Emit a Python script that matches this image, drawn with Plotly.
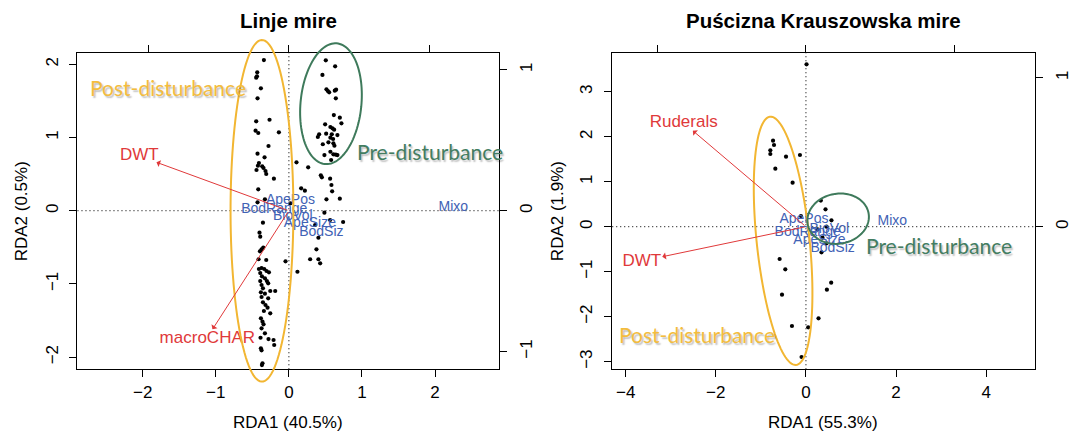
import numpy as np
import plotly.graph_objects as go

# ---------------- data ----------------
# Linje mire: site scores (RDA1, RDA2)
left_rda1 = [-0.342, -0.433, -0.437, -0.447, -0.383, -0.429, -0.447, -0.265, -0.456, -0.419, -0.137, -0.279, -0.429, -0.333,
             -0.410, -0.424, -0.365, -0.347, -0.443, -0.320, -0.310, -0.205, -0.419, -0.429, -0.328, 0.022, -0.355, -0.402,
             -0.392, -0.351, -0.374, -0.396, -0.310, -0.415, -0.046,
             -0.410, -0.374, -0.337, -0.306, -0.273, -0.392, -0.369, -0.328, -0.392, -0.301, -0.283, -0.374, -0.355, -0.255,
             -0.187, -0.383, -0.328, -0.374, -0.283, -0.355, -0.320, -0.292, -0.342, -0.255, -0.383, -0.361, -0.347, -0.374,
             -0.328, -0.388, -0.279, -0.210, -0.201, -0.383, -0.374, -0.361, -0.369, 0.117,
             0.505, 0.633, 0.459, 0.514, 0.533, 0.551, 0.628, 0.646, 0.642, 0.615, 0.697, 0.719, 0.496, 0.568, 0.596, 0.619,
             0.414, 0.510, 0.587, 0.664, 0.396, 0.568, 0.605, 0.541, 0.464, 0.609, 0.623, 0.568, 0.486, 0.609, 0.642, 0.664,
             0.578, 0.104, 0.264,
             0.437, 0.451, 0.564, 0.582, 0.168, 0.219, 0.592, 0.697, 0.514, 0.486, 0.742, 0.564, 0.359, 0.404, 0.377, 0.291,
             0.404, 0.428]
left_rda2 = [2.057, 1.889, 1.835, 1.816, 1.671, 1.534, 1.220, 1.242, 1.092, 1.061, 1.070, 0.883, 0.778, 0.729,
             0.651, 0.614, 0.606, 0.583, 0.556, 0.542, 0.501, 0.437, 0.292, 0.115, 0.156, 0.101, -0.164, -0.300,
             -0.355, -0.505, -0.527, -0.554, -0.673, -0.663, -0.691,
             -0.796, -0.782, -0.796, -0.823, -0.841, -0.851, -0.896, -0.923, -0.960, -0.960, -0.991, -1.014, -1.059, -1.096,
             -1.096, -1.114, -1.133, -1.178, -1.196, -1.251, -1.287, -1.324, -1.369, -1.401, -1.469, -1.515, -1.551, -1.605,
             -1.674, -1.734, -1.752, -1.765, -1.833, -1.879, -1.906, -2.083, -2.107, -0.833,
             2.053, 1.971, 1.853, 1.657, 1.634, 1.616, 1.638, 1.652, 1.534, 1.306, 1.270, 1.193, 1.179, 1.143, 1.125, 1.106,
             1.043, 1.051, 1.043, 1.033, 1.006, 0.997, 0.979, 0.934, 0.907, 0.920, 0.887, 0.805, 0.760, 0.770, 0.765, 0.760,
             0.692, 0.661, 0.592,
             0.483, 0.456, 0.437, 0.351, 0.306, 0.273, 0.265, 0.164, 0.156, -0.027, -0.154, -0.127, -0.195, -0.369, -0.527, -0.663,
             -0.663, -0.718]

# Puscizna Krauszowska mire: site scores
right_rda1 = [0.013, -0.730, -0.708, -0.790, -0.790, -0.442, -0.133, -0.679, -0.296, -0.111, 0.434, 0.566, 0.257,
              0.367, 0.456, 0.345, 0.330, -0.584, -0.458, 0.560, 0.465, -0.531, 0.279, -0.310, 0.051, -0.097, 0.456]
right_rda2 = [3.609, 1.911, 1.816, 1.697, 1.616, 1.556, 1.593, 1.289, 0.978, 0.238, 0.387, 0.142, -0.058,
              -0.244, -0.369, -0.569, 0.580, -0.718, -0.947, -1.244, -1.400, -1.511, -2.036, -2.207, -2.236, -2.896, 0.0]

species = ["ApePos", "BodRange", "BioVol", "ApeSize", "BodSiz", "Mixo"]
left_sp_x = [0.011, -0.104, 0.028, 0.149, 0.231, 1.169]
left_sp_y = [0.071, 0.010, -0.043, -0.089, -0.153, 0.024]
right_sp_x = [-0.013, 0.012, 0.158, 0.091, 0.180, 0.583]
right_sp_y = [0.045, -0.038, -0.017, -0.094, -0.145, 0.034]

left_env = ["DWT", "macroCHAR"]
left_env_x = [-1.812, -1.045]
left_env_y = [0.661, -1.619]
left_env_lab_x = [-2.047, -1.116]
left_env_lab_y = [0.751, -1.742]

right_env = ["Ruderals", "DWT"]
right_env_x = [-2.509, -3.188]
right_env_y = [2.133, -0.667]
right_env_lab_x = [-2.712, -3.640]
right_env_lab_y = [2.320, -0.778]

titles = ["Linje mire", "Puścizna Krauszowska mire"]
x_titles = ["RDA1 (40.5%)", "RDA1 (55.3%)"]
y_titles = ["RDA2 (0.5%)", "RDA2 (1.9%)"]
left_xticks = [-2, -1, 0, 1, 2]
left_yticks = [-2, -1, 0, 1, 2]
right_xticks = [-4, -2, 0, 2, 4]
right_yticks = [-3, -2, -1, 0, 1, 2, 3]
sp_ticks_left = [-1, 0, 1]
sp_ticks_right_y = [0, 1]
group_labels = ["Post-disturbance", "Pre-disturbance"]

# ---------------- style / layout ----------------
W, H = 1072, 433
FONT = "Liberation Sans, Arial, sans-serif"
GFONT = "Lato, Open Sans, sans-serif"
RED = "#E0393A"
BLUE = "#4162B5"
YEL = "#F2B632"
GRN = "#3E7A5B"
YEL_T = "#F3BC3E"
GRN_T = "#437D61"

L_BOX = (77.6, 500.7, 52.7, 369.3)
R_BOX = (613.8, 1037.6, 52.7, 369.3)


def dom_x(b):
    return [b[0] / W, b[1] / W]


def dom_y(b):
    return [1 - b[3] / H, 1 - b[2] / H]


fig = go.Figure()

# sites
fig.add_trace(go.Scatter(x=left_rda1, y=left_rda2, mode="markers", xaxis="x", yaxis="y",
                         marker=dict(color="black", size=4.2), hoverinfo="skip"))
fig.add_trace(go.Scatter(x=right_rda1, y=right_rda2, mode="markers", xaxis="x2", yaxis="y2",
                         marker=dict(color="black", size=4.2), hoverinfo="skip"))
# species
fig.add_trace(go.Scatter(x=left_sp_x, y=left_sp_y, mode="text", text=species, xaxis="x3", yaxis="y3",
                         textfont=dict(family=FONT, size=14, color=BLUE), cliponaxis=False, hoverinfo="skip"))
fig.add_trace(go.Scatter(x=right_sp_x, y=right_sp_y, mode="text", text=species, xaxis="x4", yaxis="y4",
                         textfont=dict(family=FONT, size=14, color=BLUE), cliponaxis=False, hoverinfo="skip"))
# env labels
fig.add_trace(go.Scatter(x=left_env_lab_x, y=left_env_lab_y, mode="text", text=left_env, xaxis="x", yaxis="y",
                         textfont=dict(family=FONT, size=17, color=RED), cliponaxis=False, hoverinfo="skip"))
fig.add_trace(go.Scatter(x=right_env_lab_x, y=right_env_lab_y, mode="text", text=right_env, xaxis="x2", yaxis="y2",
                         textfont=dict(family=FONT, size=17, color=RED), cliponaxis=False, hoverinfo="skip"))

annotations = []
for xs, ys, xr, yr in [(left_env_x, left_env_y, "x", "y"), (right_env_x, right_env_y, "x2", "y2")]:
    for xe, ye in zip(xs, ys):
        annotations.append(dict(x=xe, y=ye, ax=0, ay=0, xref=xr, yref=yr, axref=xr, ayref=yr, text="",
                                showarrow=True, arrowhead=1, arrowsize=1.2, arrowwidth=1, arrowcolor=RED))

tick = dict(showgrid=False, zeroline=False, ticks="outside", ticklen=7, tickwidth=1, tickcolor="black",
            tickfont=dict(family=FONT, size=17, color="black"))
box = dict(showline=True, mirror=True, linecolor="black", linewidth=1)

layout_axes = dict(
    xaxis=dict(domain=dom_x(L_BOX), range=[-2.894, 2.879], anchor="y", tickvals=left_xticks, **tick, **box),
    yaxis=dict(domain=dom_y(L_BOX), range=[-2.165, 2.157], anchor="x", tickvals=left_yticks, tickangle=-90,
               ticklabelstandoff=5, **tick, **box),
    xaxis3=dict(overlaying="x", side="top", anchor="y", range=[-1.504, 1.496], tickvals=sp_ticks_left,
                showticklabels=False, showline=False, **tick),
    yaxis3=dict(overlaying="y", side="right", anchor="x", range=[-1.126, 1.122], tickvals=sp_ticks_left,
                tickangle=-90, ticklabelstandoff=4, showline=False, **tick),
    xaxis2=dict(domain=dom_x(R_BOX), range=[-4.301, 5.075], anchor="y2", tickvals=right_xticks, **tick, **box),
    yaxis2=dict(domain=dom_y(R_BOX), range=[-3.169, 3.867], anchor="x2", tickvals=right_yticks, tickangle=-90,
                ticklabelstandoff=5, **tick, **box),
    xaxis4=dict(overlaying="x2", side="top", anchor="y2", range=[-1.306, 1.542], tickvals=sp_ticks_left,
                showticklabels=False, showline=False, **tick),
    yaxis4=dict(overlaying="y2", side="right", anchor="x2", range=[-0.957, 1.168], tickvals=sp_ticks_right_y,
                tickangle=-90, ticklabelstandoff=5, showline=False, **tick),
)

# dotted zero lines
shapes = []
for xr, yr in [("x", "y"), ("x2", "y2")]:
    shapes.append(dict(type="line", xref=xr, yref=yr + " domain", x0=0, x1=0, y0=0, y1=1,
                       line=dict(color="#222", width=1, dash="1.2px,2.8px"), layer="below"))
    shapes.append(dict(type="line", xref=xr + " domain", yref=yr, x0=0, x1=1, y0=0, y1=0,
                       line=dict(color="#222", width=1, dash="1.2px,2.8px"), layer="below"))


# hand-drawn group ellipses (pixel geometry: cx, cy, semi-x, semi-y, tilt deg, colour)
def ellipse_path(cx, cy, a, b, theta):
    t = np.linspace(0, 2 * np.pi, 120)
    th = np.radians(theta)
    px = cx + a * np.cos(t) * np.cos(th) - b * np.sin(t) * np.sin(th)
    py = cy - (a * np.cos(t) * np.sin(th) + b * np.sin(t) * np.cos(th))
    pts = [f"{x / W:.5f},{1 - y / H:.5f}" for x, y in zip(px, py)]
    return "M " + " L ".join(pts) + " Z"


ellipses = [
    (262.7, 210.8, 31.5, 170.8, 0, YEL),
    (331.9, 103.7, 30.5, 60.6, -5.7, GRN),
    (785.3, 240.8, 26.5, 124.8, 6.0, YEL),
    (840.5, 218.7, 31.0, 25.0, 10.0, GRN),
]
for cx, cy, a, b, th, col in ellipses:
    shapes.append(dict(type="path", xref="paper", yref="paper", path=ellipse_path(cx, cy, a, b, th),
                       line=dict(color=col, width=2), layer="above"))

shadow = "1.5px 1.5px 1.5px rgba(0,0,0,0.25)"
group_pos = [  # (label index, px x, px y, colour)
    (0, 168.6, 87.3, YEL_T), (1, 431.0, 151.7, GRN_T),
    (1, 941.7, 245.0, GRN_T), (0, 698.5, 334.3, YEL_T),
]
for gi, px, py, col in group_pos:
    annotations.append(dict(x=px / W, y=1 - py / H, xref="paper", yref="paper", text=group_labels[gi],
                            showarrow=False, xanchor="center", yanchor="middle",
                            font=dict(family=GFONT, size=21, color=col, shadow=shadow)))

# titles and axis titles
for i, (cx, ylx) in enumerate([(289.2, 21.4), (825.7, 558.7)]):
    annotations.append(dict(x=cx / W, y=1 - 20.7 / H, xref="paper", yref="paper", text="<b>" + titles[i] + "</b>",
                            showarrow=False, xanchor="center", yanchor="middle",
                            font=dict(family=FONT, size=20.5, color="black")))
    annotations.append(dict(x=cx / W, y=1 - 422.7 / H, xref="paper", yref="paper", text=x_titles[i],
                            showarrow=False, xanchor="center", yanchor="middle",
                            font=dict(family=FONT, size=17, color="black")))
    annotations.append(dict(x=ylx / W, y=1 - 211 / H, xref="paper", yref="paper", text=y_titles[i],
                            showarrow=False, xanchor="center", yanchor="middle", textangle=-90,
                            font=dict(family=FONT, size=17, color="black")))

fig.update_layout(width=W, height=H, autosize=False, margin=dict(l=0, r=0, t=0, b=0),
                  paper_bgcolor="white", plot_bgcolor="white", showlegend=False,
                  shapes=shapes, annotations=annotations, **layout_axes)

fig.write_html("out.html", config={"displayModeBar": False},
               post_script="document.body.style.margin='0';document.body.style.overflow='hidden';")
